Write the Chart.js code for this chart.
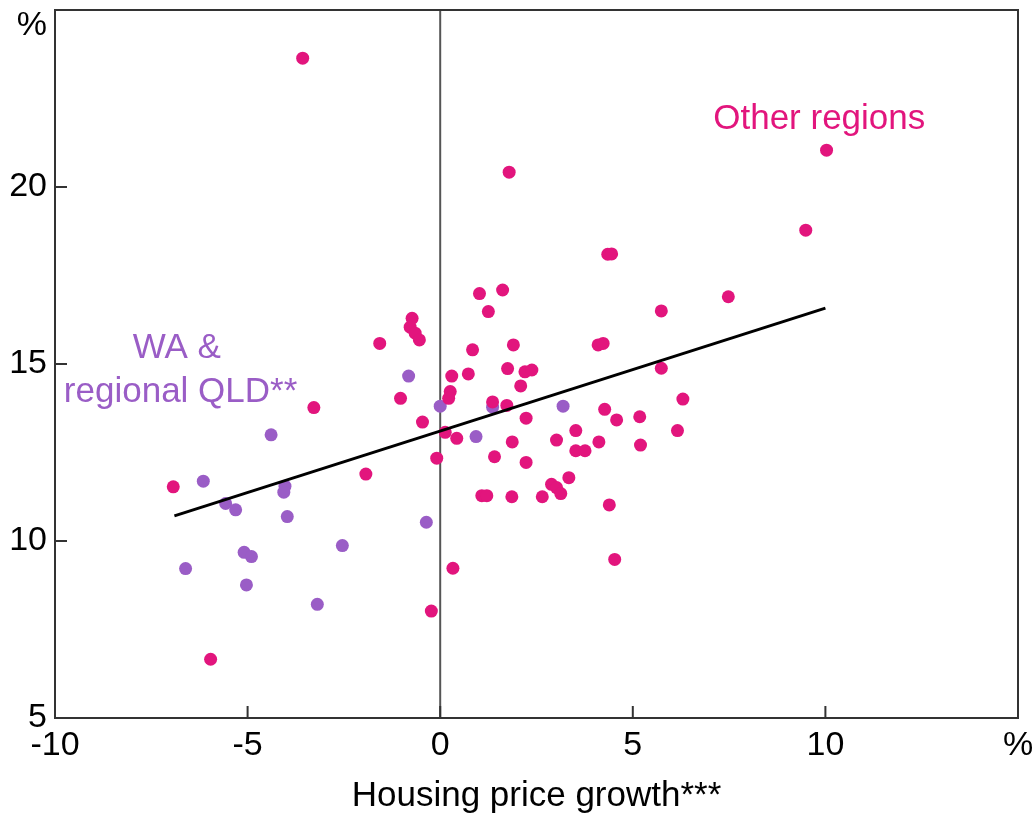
<!DOCTYPE html>
<html>
<head>
<meta charset="utf-8">
<script src="https://cdn.jsdelivr.net/npm/chart.js@4/dist/chart.umd.min.js"></script>
<style>
  html, body { margin: 0; padding: 0; background: #fff; }
</style>
</head>
<body>
<canvas id="chart" width="1034" height="814"></canvas>
<script>
// Other regions (magenta dots)
const otherX = [-3.57, 10.03, 1.79, 9.49, 4.35, 4.45, 7.48, 1.02, 1.62, 1.25, 5.74,
  -0.73, -0.78, -0.65, -0.54, -1.57, 0.84, 1.90, 4.10, 4.23, 0.30, 0.73, 1.75, 2.20,
  2.38, 5.74, 2.09, 0.26, 0.22, -1.03, -3.28, 1.36, 1.73, 6.30, 4.27, 4.58, 5.18, 2.23,
  -0.46, 0.13, 0.43, 3.52, 6.16, 3.02, 4.12, 1.87, 5.20, 3.52, 3.76, 1.41, -0.09, 2.23,
  -1.93, -6.93, 3.34, 2.89, 3.02, 3.13, 1.08, 1.21, 1.86, 2.65, 4.39, 4.53, 0.33, -0.23, -5.96];
const otherY = [23.64, 21.04, 20.42, 18.78, 18.10, 18.11, 16.90, 16.99, 17.09, 16.48, 16.50,
  16.29, 16.04, 15.87, 15.68, 15.58, 15.40, 15.54, 15.54, 15.58, 14.66, 14.72, 14.87, 14.78,
  14.83, 14.88, 14.38, 14.22, 14.03, 14.03, 13.77, 13.93, 13.83, 14.01, 13.72, 13.42, 13.51, 13.47,
  13.36, 13.07, 12.90, 13.12, 13.12, 12.85, 12.80, 12.80, 12.71, 12.55, 12.55, 12.38, 12.34, 12.22,
  11.89, 11.53, 11.79, 11.60, 11.51, 11.34, 11.28, 11.28, 11.25, 11.25, 11.02, 9.48, 9.23, 8.02, 6.66];

// WA & regional QLD (purple dots)
const waX = [-0.82, 0.00, 1.36, 3.19, 0.93, -4.39, -6.15, -4.03, -4.06, -5.57, -5.31,
  -3.97, -0.36, -2.54, -5.09, -4.90, -6.61, -5.03, -3.19];
const waY = [14.66, 13.81, 13.78, 13.81, 12.95, 13.00, 11.69, 11.55, 11.38, 11.06, 10.88,
  10.69, 10.53, 9.87, 9.68, 9.56, 9.22, 8.76, 8.21];

// fitted line
const trendX = [-6.9, 10.0];
const trendY = [10.71, 16.58];

const xTicks = [-10, -5, 0, 5, 10, 15];
const yTicks = [5, 10, 15, 20, 25];

const magenta = '#e2157d';
const purple = '#9a5dc6';
const font = "'Liberation Sans', Arial, sans-serif";

function toPoints(xs, ys) {
    return xs.map((x, i) => ({ x: x, y: ys[i] }));
}

// frame, inward ticks, zero line, '%' label and the two region labels
const extras = {
    id: 'extras',
    beforeDatasetsDraw(chart) {
        const { ctx, chartArea: a, scales: { x, y } } = chart;
        ctx.save();
        // zero line
        ctx.strokeStyle = '#555';
        ctx.lineWidth = 2;
        ctx.beginPath();
        ctx.moveTo(x.getPixelForValue(0), a.top);
        ctx.lineTo(x.getPixelForValue(0), a.bottom);
        ctx.stroke();
        // frame
        ctx.strokeStyle = '#333';
        ctx.strokeRect(a.left, a.top, a.right - a.left, a.bottom - a.top);
        // ticks pointing inwards
        ctx.beginPath();
        xTicks.forEach(v => {
            const px = x.getPixelForValue(v);
            ctx.moveTo(px, a.bottom);
            ctx.lineTo(px, a.bottom - 12);
        });
        yTicks.forEach(v => {
            const py = y.getPixelForValue(v);
            ctx.moveTo(a.left, py);
            ctx.lineTo(a.left + 12, py);
        });
        ctx.stroke();
        ctx.restore();
    },
    afterDraw(chart) {
        const { ctx, chartArea: a, scales: { x, y } } = chart;
        ctx.save();
        ctx.font = '34px ' + font;
        ctx.textBaseline = 'middle';
        ctx.fillStyle = '#000';
        ctx.textAlign = 'right';
        ctx.fillText('%', a.left - 8, a.top + 16);

        ctx.font = '35px ' + font;
        ctx.textAlign = 'center';
        ctx.fillStyle = magenta;
        ctx.fillText('Other regions', x.getPixelForValue(9.84), y.getPixelForValue(21.9));
        ctx.fillStyle = purple;
        ctx.fillText('WA &', x.getPixelForValue(-6.84), y.getPixelForValue(15.45));
        ctx.fillText('regional QLD**', x.getPixelForValue(-6.74), y.getPixelForValue(14.21));
        ctx.restore();
    }
};

new Chart(document.getElementById('chart'), {
    type: 'scatter',
    data: {
        datasets: [
            {
                type: 'line',
                data: toPoints(trendX, trendY),
                borderColor: '#000',
                borderWidth: 3,
                pointRadius: 0,
                fill: false,
                order: 0
            },
            {
                data: toPoints(otherX, otherY),
                backgroundColor: magenta,
                borderWidth: 0,
                pointRadius: 6.5,
                order: 1
            },
            {
                data: toPoints(waX, waY),
                backgroundColor: purple,
                borderWidth: 0,
                pointRadius: 6.5,
                order: 1
            }
        ]
    },
    options: {
        responsive: false,
        animation: false,
        layout: { padding: { top: 10, right: 16, left: 0, bottom: 0 } },
        plugins: {
            legend: { display: false },
            tooltip: { enabled: false }
        },
        scales: {
            x: {
                type: 'linear',
                min: -10,
                max: 15,
                afterBuildTicks: scale => { scale.ticks = xTicks.map(v => ({ value: v })); },
                ticks: {
                    color: '#000',
                    font: { family: font, size: 34 },
                    padding: 7,
                    maxRotation: 0,
                    callback: v => (v === 15 ? '%' : v)
                },
                grid: { display: false, drawTicks: false },
                border: { display: false },
                title: {
                    display: true,
                    text: 'Housing price growth***',
                    color: '#000',
                    font: { family: font, size: 35, lineHeight: 1 },
                    padding: 0
                },
                afterFit: scale => { scale.height = 96; scale.paddingRight = 0; }
            },
            y: {
                min: 5,
                max: 25,
                afterBuildTicks: scale => { scale.ticks = yTicks.map(v => ({ value: v })); },
                ticks: {
                    color: '#000',
                    font: { family: font, size: 34 },
                    padding: 8,
                    callback: v => (v === 25 ? '' : v)
                },
                grid: { display: false, drawTicks: false },
                border: { display: false },
                afterFit: scale => { scale.width = 55; scale.paddingTop = 0; }
            }
        }
    },
    plugins: [extras]
});
</script>
</body>
</html>
